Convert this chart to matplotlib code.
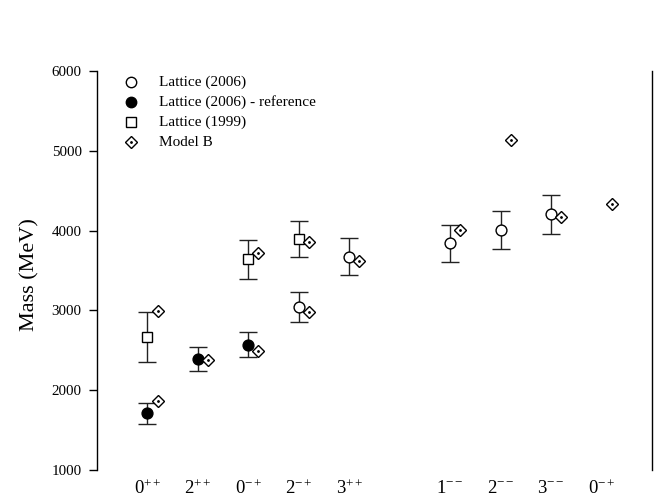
import matplotlib
matplotlib.use("Agg")
import matplotlib.pyplot as plt
import numpy as np

plt.rcParams['font.family'] = ['Liberation Serif', 'DejaVu Serif']
plt.rcParams['mathtext.fontset'] = 'custom'
plt.rcParams['mathtext.rm'] = 'Liberation Serif'
plt.rcParams['mathtext.it'] = 'Liberation Serif:italic'

# states (J^PC) and where they sit on the x axis
state_labels = [r'$0^{++}$', r'$2^{++}$', r'$0^{-+}$', r'$2^{-+}$', r'$3^{++}$',
                r'$1^{--}$', r'$2^{--}$', r'$3^{--}$', r'$0^{-+}$']
state_pos = [1, 2, 3, 4, 5, 7, 8, 9, 10]

# Lattice (2006), open circles
lat06_pos = [4, 5, 7, 8, 9]
lat06_mass = [3045, 3675, 3840, 4010, 4205]
lat06_err = [190, 230, 235, 240, 243]

# Lattice (2006) - reference, filled circles
lat06ref_pos = [1, 2, 3]
lat06ref_mass = [1712, 2390, 2570]
lat06ref_err = [130, 150, 155]

# Lattice (1999), squares
lat99_pos = [1, 3, 4]
lat99_mass = [2670, 3640, 3895]
lat99_err = [310, 240, 230]

# Model B, diamonds (drawn a little to the right)
modelB_pos = [1, 1, 2, 3, 3, 4, 4, 5, 7, 8, 9, 10]
modelB_mass = [1860, 2990, 2380, 2495, 3720, 3860, 2980, 3620, 4005, 5140, 4170, 4330]
shift = 0.2

fig = plt.figure(figsize=(6.54, 4.97), dpi=100)
ax = fig.add_axes([0.1483, 0.0543, 0.8487, 0.8027])

ebar = dict(fmt='none', ecolor='#222222', elinewidth=1.0, capsize=6.5, capthick=1.0, zorder=2)
ax.errorbar(lat06_pos, lat06_mass, yerr=lat06_err, **ebar)
ax.errorbar(lat06ref_pos, lat06ref_mass, yerr=lat06ref_err, **ebar)
ax.errorbar(lat99_pos, lat99_mass, yerr=lat99_err, **ebar)

ax.plot(lat06_pos, lat06_mass, 'o', ms=7.8, mfc='white', mec='black', mew=1.0,
        ls='none', zorder=3)
ax.plot(lat06ref_pos, lat06ref_mass, 'o', ms=7.8, mfc='black', mec='black',
        ls='none', zorder=3)
ax.plot(lat99_pos, lat99_mass, 's', ms=6.5, mfc='white', mec='black', mew=1.0,
        ls='none', zorder=3)
mb_x = np.array(modelB_pos) + shift
ax.plot(mb_x, modelB_mass, 'D', ms=6.5, mfc='white', mec='black', mew=1.0, ls='none', zorder=3)
ax.plot(mb_x, modelB_mass, '.', ms=2, color='black', ls='none', zorder=4)

# legend by hand: marker column and text column
leg_items = ['Lattice (2006)', 'Lattice (2006) - reference', 'Lattice (1999)', 'Model B']
leg_y = [0.972, 0.922, 0.872, 0.822]
mk = [dict(marker='o', ms=7.5, mfc='white'), dict(marker='o', ms=7.5, mfc='black'),
      dict(marker='s', ms=6.5, mfc='white'), dict(marker='D', ms=6.5, mfc='white')]
for txt, yy, m in zip(leg_items, leg_y, mk):
    ax.plot([0.062], [yy], transform=ax.transAxes, mec='black', mew=1.0, ls='none',
            clip_on=False, **m)
    ax.text(0.112, yy, txt, transform=ax.transAxes, va='center', ha='left', fontsize=11)
ax.plot([0.062], [leg_y[3]], '.', ms=2, color='black', transform=ax.transAxes)

ax.set_xlim(0, 11)
ax.set_ylim(1000, 6000)
ax.set_yticks([1000, 2000, 3000, 4000, 5000, 6000])
ax.set_xticks(state_pos)
ax.set_xticklabels(state_labels, fontsize=13.5)
ax.tick_params(axis='x', length=0, pad=7)
ax.tick_params(axis='y', direction='out', length=6, width=1, labelsize=10.8, pad=5)
ax.set_ylabel('Mass (MeV)', fontsize=16)
ax.yaxis.set_label_coords(-0.104, 0.49)

ax.spines['top'].set_visible(False)
ax.spines['bottom'].set_visible(False)
ax.spines['left'].set_linewidth(1.0)
ax.spines['right'].set_linewidth(1.0)

fig.savefig('out.png', dpi=100)
